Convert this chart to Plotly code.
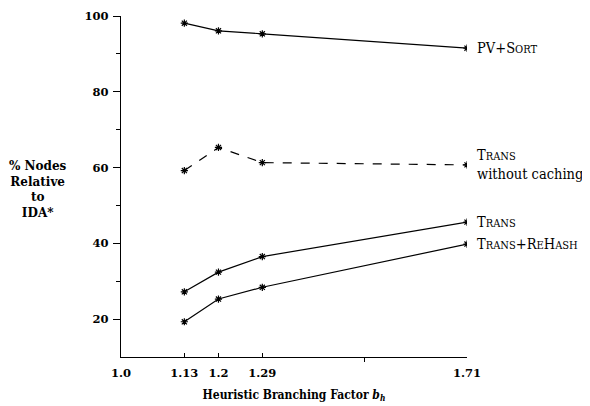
import plotly.graph_objects as go

bh = [1.13, 1.2, 1.29, 1.71]
pv_sort = [98.1, 96.1, 95.3, 91.5]
trans_nocache = [59.2, 65.3, 61.3, 60.7]
trans = [27.2, 32.4, 36.5, 45.6]
trans_rehash = [19.3, 25.3, 28.4, 39.8]

x_ticks = [1.0, 1.13, 1.2, 1.29, 1.71]
x_ticktext = ["1.0", "1.13", "1.2", "1.29", "1.71"]
y_ticks = [20, 40, 60, 80, 100]

SC = "<span style='font-size:11px'>{}</span>"
labels = {
    "pv": "PV+S" + SC.format("ORT"),
    "nocache": "T" + SC.format("RANS") + "<br>without caching",
    "trans": "T" + SC.format("RANS"),
    "rehash": "T" + SC.format("RANS") + "+R" + SC.format("E") + "H" + SC.format("ASH"),
}

FONT = "DejaVu Serif"
FONT_C = "DejaVu Serif Condensed, DejaVu Serif"

fig = go.Figure()
series = [
    ("pv", pv_sort, "solid"),
    ("nocache", trans_nocache, "dash"),
    ("trans", trans, "solid"),
    ("rehash", trans_rehash, "solid"),
]
for key, vals, dash in series:
    fig.add_trace(go.Scatter(
        x=bh, y=vals, mode="lines+markers",
        line=dict(color="black", width=1.2, dash=dash),
        marker=dict(symbol="asterisk-open", size=6, color="black",
                    line=dict(color="black", width=1.2)),
        showlegend=False, hoverinfo="skip",
    ))
    fig.add_annotation(x=bh[-1], y=vals[-1], text=labels[key], showarrow=False,
                       xanchor="left", yanchor="middle", xshift=8,
                       align="left", font=dict(family=FONT_C, size=14.5, color="black"))

fig.add_annotation(xref="paper", yref="paper", x=-0.24, y=0.50,
                   text="% Nodes<br>Relative<br>to<br>IDA*", showarrow=False,
                   align="center", xanchor="center", yanchor="middle", yshift=-3,
                   font=dict(family=FONT, size=12, color="black", weight="bold"))

fig.update_layout(
    width=590, height=406,
    margin=dict(l=113, r=131, t=8, b=57),
    paper_bgcolor="white", plot_bgcolor="white",
    font=dict(family=FONT, color="black"),
    xaxis=dict(
        range=[1.0, 1.71], tickvals=x_ticks, ticktext=x_ticktext, automargin=False,
        showgrid=False, zeroline=False, showline=True, linecolor="black", linewidth=1.3,
        ticks="inside", ticklen=4, tickwidth=1, tickcolor="black", ticklabelstandoff=5,
        tickfont=dict(family=FONT, size=11.5, color="black", weight="bold"),
        minor=dict(tickvals=[1.5], ticks="outside", ticklen=4, tickcolor="black", showgrid=False),
        title=dict(text="Heuristic Branching Factor <i>b<sub>h</sub></i>",
                   font=dict(family=FONT_C, size=12, color="black", weight="bold"), standoff=11),
    ),
    yaxis=dict(
        range=[10, 100], tickvals=y_ticks, automargin=False,
        showgrid=False, zeroline=False, showline=True, linecolor="black", linewidth=1.3,
        ticks="outside", ticklen=7, tickwidth=1, tickcolor="black", ticklabelstandoff=2,
        tickfont=dict(family=FONT, size=11.5, color="black", weight="bold"),
        minor=dict(tickvals=[30, 50, 70, 90], ticks="outside", ticklen=4, tickcolor="black", showgrid=False),
    ),
)

fig.write_html("out.html")
